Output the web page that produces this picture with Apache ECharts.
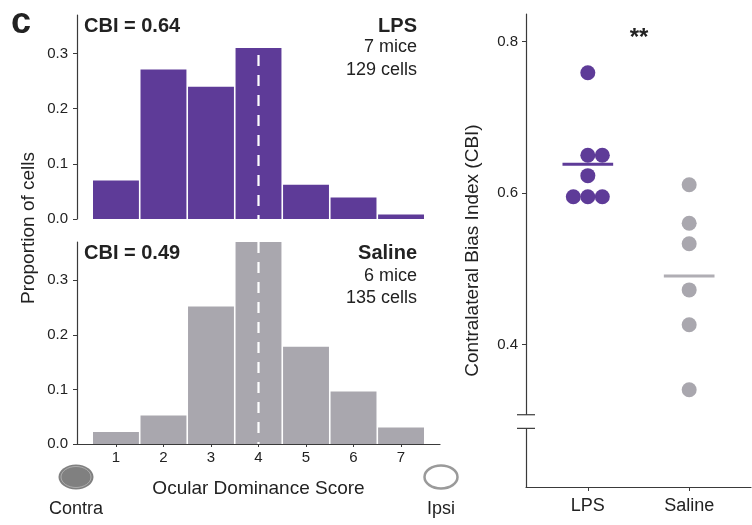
<!DOCTYPE html>
<html>
<head>
<meta charset="utf-8">
<script src="https://cdn.jsdelivr.net/npm/echarts@6/dist/echarts.min.js"></script>
<style>html,body{margin:0;padding:0;background:#fff;}#c{width:752px;height:525px;}</style>
</head>
<body>
<div id="c"></div>
<script>
// ---- data ----
const scores = [1, 2, 3, 4, 5, 6, 7];
const lpsProp = [0.070, 0.271, 0.240, 0.310, 0.062, 0.039, 0.008];
const salineProp = [0.022, 0.052, 0.252, 0.370, 0.178, 0.096, 0.030];
const midScore = [4];
const histTicks = [0, 0.1, 0.2, 0.3];
const groups = ['LPS', 'Saline'];
const lpsCBI = [0.759, 0.650, 0.650, 0.623, 0.595, 0.595, 0.595];
const salineCBI = [0.611, 0.560, 0.533, 0.472, 0.426, 0.340];
const cbiTicks = [0.4, 0.6, 0.8];
const breakRange = [0.289, 0.307];

const PURPLE = '#5e3b98';
const GRAY = '#a9a7ae';
const AX = '#3a3a3a';
const FONT = '"Liberation Sans", Arial, Helvetica, sans-serif';

const chart = echarts.init(document.getElementById('c'), null, {renderer: 'canvas'});

function mean(a) { return a.reduce((s, v) => s + v, 0) / a.length; }

function histItem(color) {
  return function (params, api) {
    const x = api.value(0), y = api.value(1);
    const p0 = api.coord([x - 0.5, y]);
    const p1 = api.coord([x + 0.5, 0]);
    const top = Math.max(p0[1], params.coordSys.y);
    return {type: 'rect', shape: {x: p0[0] + 0.8, y: top, width: p1[0] - p0[0] - 1.6, height: p1[1] - top},
      style: {fill: color}};
  };
}
function dashItem(params, api) {
  const x = api.value(0);
  const cs = params.coordSys;
  const p = api.coord([x, 0]);
  return {type: 'line', shape: {x1: p[0], y1: cs.y, x2: p[0], y2: p[1]},
    style: {stroke: '#fff', lineWidth: 2.2, lineDash: [11, 9]}};
}
function meanItem(color) {
  return function (params, api) {
    const x = api.value(0), y = api.value(1);
    const a = api.coord([x - 0.25, y]), b = api.coord([x + 0.25, y]);
    return {type: 'line', shape: {x1: a[0], y1: a[1], x2: b[0], y2: b[1]}, style: {stroke: color, lineWidth: 3}};
  };
}

const histY = (idx) => ({
  type: 'value', gridIndex: idx, min: 0, max: 0.37, splitLine: {show: false},
  axisLine: {show: true, lineStyle: {color: AX, width: 1.2}},
  axisTick: {show: true, length: 4, lineStyle: {color: AX}, customValues: histTicks},
  axisLabel: {customValues: histTicks, formatter: v => v.toFixed(1), color: '#222', fontSize: 15, fontFamily: FONT, margin: 9}
});

function txt(text, x, y, size, opts) {
  opts = opts || {};
  return {type: 'text', x: x, y: y, rotation: opts.rot || 0, z: 100,
    style: {text: text, fill: opts.fill || '#222', font: (opts.bold ? 'bold ' : '') + size + 'px ' + FONT,
      textAlign: opts.align || 'left', textVerticalAlign: 'middle'}};
}

const baseGraphics = [
  txt('c', 11, 23, 36, {bold: true}),
  txt('CBI = 0.64', 84, 26.5, 20, {bold: true}),
  txt('LPS', 417, 26.5, 20, {bold: true, align: 'right'}),
  txt('7 mice', 417, 47, 18, {align: 'right'}),
  txt('129 cells', 417, 70, 18, {align: 'right'}),
  txt('CBI = 0.49', 84, 253.5, 20, {bold: true}),
  txt('Saline', 417, 253.5, 20, {bold: true, align: 'right'}),
  txt('6 mice', 417, 276, 18, {align: 'right'}),
  txt('135 cells', 417, 298, 18, {align: 'right'}),
  txt('Proportion of cells', 29, 228, 19, {align: 'center', rot: Math.PI / 2}),
  txt('Contra', 76, 509, 18, {align: 'center'}),
  txt('Ipsi', 441, 509, 18, {align: 'center'}),
  txt('**', 639, 38, 24, {bold: true, align: 'center'}),
  {type: 'ellipse', shape: {cx: 76, cy: 477, rx: 17.5, ry: 12.5}, style: {fill: '#808080'}},
  {type: 'ellipse', shape: {cx: 76, cy: 477, rx: 15, ry: 10.5}, style: {fill: 'none', stroke: '#b8b8b8', lineWidth: 0.8}},
  {type: 'ellipse', shape: {cx: 441, cy: 477, rx: 16.5, ry: 11.5}, style: {fill: '#fff', stroke: '#9a9a9a', lineWidth: 2.5}}
];

const option = {
  animation: false,
  backgroundColor: '#fff',
  textStyle: {fontFamily: FONT},
  grid: [
    {left: 77, top: 15, width: 363, height: 204},
    {left: 77, top: 242, width: 363, height: 202},
    {left: 526, top: 14, width: 225, height: 473}
  ],
  xAxis: [
    {type: 'value', gridIndex: 0, min: 0.18, max: 7.82, show: false},
    {type: 'value', gridIndex: 1, min: 0.18, max: 7.82, splitLine: {show: false},
      axisLine: {show: true, onZero: false, lineStyle: {color: AX, width: 1.2}},
      axisTick: {show: true, length: 3, lineStyle: {color: AX}, customValues: scores},
      axisLabel: {customValues: scores, color: '#222', fontSize: 15, fontFamily: FONT, margin: 6},
      name: 'Ocular Dominance Score', nameLocation: 'middle', nameGap: 35,
      nameTextStyle: {fontSize: 19, color: '#222', fontFamily: FONT}},
    {type: 'value', gridIndex: 2, min: 0.39, max: 2.61, splitLine: {show: false},
      axisLine: {show: true, onZero: false, lineStyle: {color: AX, width: 1.2}},
      axisTick: {show: true, length: 4, lineStyle: {color: AX}, customValues: [1, 2]},
      axisLabel: {customValues: [1, 2], formatter: v => groups[Math.round(v) - 1], color: '#222', fontSize: 18, fontFamily: FONT, margin: 10}}
  ],
  yAxis: [
    histY(0), histY(1),
    {type: 'value', gridIndex: 2, min: 0.2115, max: 0.8366, splitLine: {show: false},
      axisLine: {show: true, onZero: false, lineStyle: {color: AX, width: 1.2}},
      axisTick: {show: true, length: 4, lineStyle: {color: AX}, customValues: cbiTicks},
      axisLabel: {customValues: cbiTicks, formatter: v => v.toFixed(1), color: '#222', fontSize: 15, fontFamily: FONT, margin: 8},
      name: 'Contralateral Bias Index (CBI)', nameLocation: 'middle', nameGap: 44,
      nameTextStyle: {fontSize: 19, color: '#222', fontFamily: FONT}}
  ],
  series: [
    {type: 'custom', xAxisIndex: 0, yAxisIndex: 0, data: scores.map((s, i) => [s, lpsProp[i]]), renderItem: histItem(PURPLE)},
    {type: 'custom', xAxisIndex: 0, yAxisIndex: 0, data: midScore.map(v => [v]), renderItem: dashItem, z: 5},
    {type: 'custom', xAxisIndex: 1, yAxisIndex: 1, data: scores.map((s, i) => [s, salineProp[i]]), renderItem: histItem(GRAY)},
    {type: 'custom', xAxisIndex: 1, yAxisIndex: 1, data: midScore.map(v => [v]), renderItem: dashItem, z: 5},
    {id: 'lpsPts', type: 'scatter', xAxisIndex: 2, yAxisIndex: 2, symbolSize: 15, itemStyle: {color: PURPLE, opacity: 1},
      data: lpsCBI.map(v => [1, v])},
    {id: 'salPts', type: 'scatter', xAxisIndex: 2, yAxisIndex: 2, symbolSize: 15, itemStyle: {color: GRAY, opacity: 1},
      data: salineCBI.map(v => [2, v])},
    {type: 'custom', xAxisIndex: 2, yAxisIndex: 2, data: [[1, mean(lpsCBI)]], renderItem: meanItem(PURPLE), z: 4},
    {type: 'custom', xAxisIndex: 2, yAxisIndex: 2, data: [[2, mean(salineCBI)]], renderItem: meanItem('#b0aeb4'), z: 4}
  ],
  graphic: baseGraphics
};
chart.setOption(option);

// beeswarm layout computed from the axis scale
function swarm(vals, cx) {
  const g = {gridIndex: 2};
  const px0 = chart.convertToPixel(g, [cx, 0.5]);
  const px1 = chart.convertToPixel(g, [cx + 1, 0.5]);
  const unit = px1[0] - px0[0];
  const step = 14.5;
  const placed = [];
  const out = [];
  vals.forEach(v => {
    const py = chart.convertToPixel(g, [cx, v])[1];
    for (const k of [0, 1, -1, 2, -2, 3, -3]) {
      const px = px0[0] + k * step;
      if (!placed.some(p => Math.hypot(p[0] - px, p[1] - py) < 14)) {
        placed.push([px, py]);
        out.push([cx + k * step / unit, v]);
        break;
      }
    }
  });
  return out;
}
const b0 = chart.convertToPixel({gridIndex: 2}, [0.39, breakRange[0]]);
const b1 = chart.convertToPixel({gridIndex: 2}, [0.39, breakRange[1]]);
const axX = Math.round(b0[0]);
chart.setOption({
  series: [{id: 'lpsPts', data: swarm(lpsCBI, 1)}, {id: 'salPts', data: swarm(salineCBI, 2)}],
  graphic: baseGraphics.concat([
    {type: 'rect', shape: {x: axX - 3, y: b1[1], width: 6, height: b0[1] - b1[1]}, style: {fill: '#fff'}, z: 100},
    {type: 'line', shape: {x1: axX - 9, y1: b1[1], x2: axX + 9, y2: b1[1]}, style: {stroke: AX, lineWidth: 1.2}, z: 101},
    {type: 'line', shape: {x1: axX - 9, y1: b0[1], x2: axX + 9, y2: b0[1]}, style: {stroke: AX, lineWidth: 1.2}, z: 101}
  ])
});
</script>
</body>
</html>
